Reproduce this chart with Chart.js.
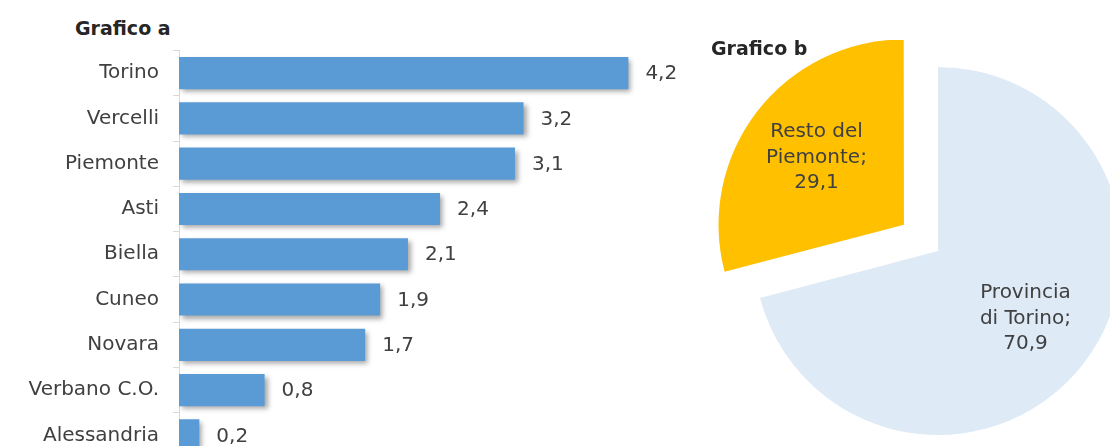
<!DOCTYPE html>
<html>
<head>
<meta charset="utf-8">
<script src="https://cdn.jsdelivr.net/npm/chart.js@4"></script>
<style>
  html, body { margin: 0; padding: 0; width: 1110px; height: 446px; overflow: hidden; background: #fff; }
  .title { position: absolute; font-family: "DejaVu Sans", sans-serif; font-weight: bold; font-size: 19px; color: #262626; line-height: 22px; }
  #barBox { position: absolute; left: 0; top: 0; width: 714px; height: 484px; }
  #pieBox { position: absolute; left: 700px; top: 40px; width: 410px; height: 406px; }
</style>
</head>
<body>
<div class="title" style="left:75px; top:17px;">Grafico a</div>
<div class="title" style="left:711px; top:37px; z-index:2;">Grafico b</div>
<div id="barBox"><canvas id="barChart"></canvas></div>
<div id="pieBox"><canvas id="pieChart"></canvas></div>

<script>
// ----- Data -----
const provinces = ['Torino', 'Vercelli', 'Piemonte', 'Asti', 'Biella', 'Cuneo', 'Novara', 'Verbano C.O.', 'Alessandria'];
const provinceValues = [4.2, 3.22, 3.14, 2.44, 2.14, 1.88, 1.74, 0.8, 0.19];

const pieLabels = [['Provincia', 'di Torino;'], ['Resto del', 'Piemonte;']];
const pieValues = [70.9, 29.1];

const fontFamily = '"DejaVu Sans", sans-serif';
const textColor = '#404040';

const fmt = (v) => v.toFixed(1).replace('.', ',');

// shadow under the bars
const barShadow = {
  id: 'barShadow',
  beforeDatasetsDraw(chart) {
    const ctx = chart.ctx;
    ctx.save();
    ctx.shadowColor = 'rgba(0,0,0,0.35)';
    ctx.shadowBlur = 5;
    ctx.shadowOffsetX = 3;
    ctx.shadowOffsetY = 3;
  },
  afterDatasetsDraw(chart) {
    chart.ctx.restore();
  }
};

// value labels at the end of the bars
const barLabels = {
  id: 'barLabels',
  afterDraw(chart) {
    const ctx = chart.ctx;
    const meta = chart.getDatasetMeta(0);
    ctx.save();
    ctx.font = '20px ' + fontFamily;
    ctx.fillStyle = textColor;
    ctx.textAlign = 'left';
    ctx.textBaseline = 'middle';
    meta.data.forEach((bar, i) => {
      ctx.fillText(fmt(provinceValues[i]), bar.x + 17, bar.y + 1);
    });
    ctx.restore();
  }
};

// labels inside the slices (arc offset is drawn at a quarter of its value)
const pieText = {
  id: 'pieText',
  afterDraw(chart) {
    const ctx = chart.ctx;
    const meta = chart.getDatasetMeta(0);
    const offsets = chart.data.datasets[0].offset;
    ctx.save();
    ctx.font = '20px ' + fontFamily;
    ctx.fillStyle = textColor;
    ctx.textAlign = 'center';
    ctx.textBaseline = 'middle';
    meta.data.forEach((arc, i) => {
      const mid = (arc.startAngle + arc.endAngle) / 2;
      const d = offsets[i] / 4 + arc.outerRadius * 0.6;
      const cx = arc.x + Math.cos(mid) * d;
      const cy = arc.y + Math.sin(mid) * d;
      const lines = pieLabels[i].concat([fmt(pieValues[i])]);
      lines.forEach((line, j) => {
        ctx.fillText(line, cx, cy + (j - 1) * 25.5);
      });
    });
    ctx.restore();
  }
};

new Chart(document.getElementById('barChart'), {
  type: 'bar',
  data: {
    labels: provinces,
    datasets: [{
      data: provinceValues,
      backgroundColor: '#5B9BD5',
      barPercentage: 0.71,
      categoryPercentage: 1.0,
    }],
  },
  options: {
    indexAxis: 'y',
    responsive: true,
    maintainAspectRatio: false,
    animation: false,
    layout: { padding: { top: 50.5, right: 0, bottom: 0, left: 0 } },
    plugins: { legend: { display: false }, tooltip: { enabled: false } },
    scales: {
      x: { display: false, min: 0, max: 5 },
      y: {
        afterFit: (s) => { s.width = 179; },
        border: { color: '#d9d9d9' },
        grid: { drawOnChartArea: false, tickLength: 6, color: '#d9d9d9', offset: true },
        ticks: { color: textColor, font: { family: fontFamily, size: 20 }, padding: 14 },
      },
    },
  },
  plugins: [barShadow, barLabels],
});

new Chart(document.getElementById('pieChart'), {
  type: 'pie',
  data: {
    labels: ['Provincia di Torino', 'Resto del Piemonte'],
    datasets: [{
      data: pieValues,
      backgroundColor: ['#DEEAF6', '#FFC000'],
      borderWidth: 0,
      offset: [0, 172],
    }],
  },
  options: {
    responsive: true,
    maintainAspectRatio: false,
    animation: false,
    radius: 184,
    layout: { padding: { top: 16, left: 66, right: 0, bottom: 0 } },
    plugins: { legend: { display: false }, tooltip: { enabled: false } },
  },
  plugins: [pieText],
});
</script>
</body>
</html>
